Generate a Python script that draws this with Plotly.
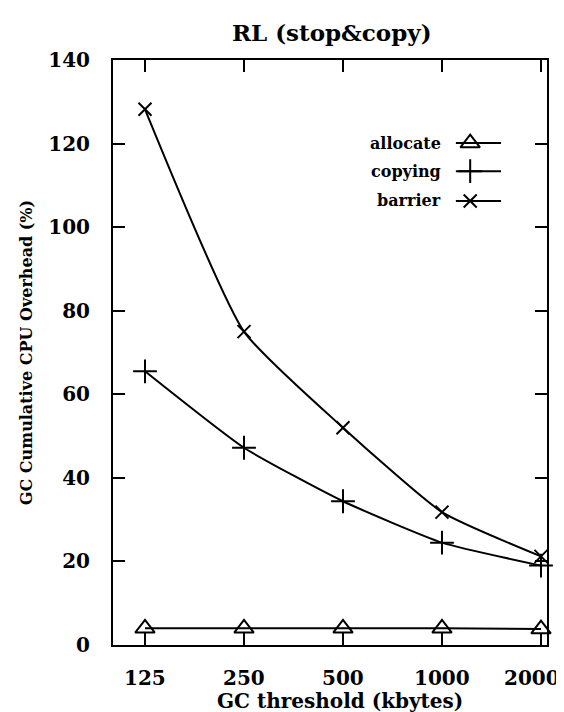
import math
import plotly.graph_objects as go

thresholds = [125, 250, 500, 1000, 2000]
tick_labels = ["125", "250", "500", "1000", "2000"]
allocate = [4.0, 4.0, 4.0, 4.0, 3.8]
copying = [65.5, 47.2, 34.4, 24.5, 19.0]
barrier = [128.2, 75.0, 52.0, 31.8, 21.2]
y_ticks = [0, 20, 40, 60, 80, 100, 120, 140]

FONT = "DejaVu Serif"
fig = go.Figure()

series = [
    ("allocate", allocate, "triangle-up-open", 17),
    ("copying", copying, "cross-thin-open", 17),
    ("barrier", barrier, "x-thin-open", 13),
]
for name, vals, sym, sz in series:
    fig.add_trace(go.Scatter(
        x=thresholds, y=vals, mode="lines+markers", name=name,
        line=dict(color="black", width=2, shape="spline", smoothing=0.5),
        marker=dict(symbol=sym, size=sz, color="black",
                    line=dict(color="black", width=2)),
        showlegend=False, cliponaxis=False,
    ))

# legend samples on a hidden overlay axis (0..1)
leg_y = [0.858, 0.810, 0.759]
for (name, vals, sym, sz), ly in zip(series, leg_y):
    fig.add_trace(go.Scatter(
        x=[0.79, 0.894], y=[ly, ly], mode="lines", xaxis="x2", yaxis="y2",
        line=dict(color="black", width=2), showlegend=False, hoverinfo="skip",
    ))
    fig.add_trace(go.Scatter(
        x=[0.823], y=[ly], mode="markers", xaxis="x2", yaxis="y2",
        marker=dict(symbol=sym, size=sz, color="black",
                    line=dict(color="black", width=2)),
        showlegend=False, hoverinfo="skip",
    ))
    fig.add_annotation(x=0.76, y=ly, xref="x2", yref="y2", text=name,
                       showarrow=False, xanchor="right", yanchor="middle",
                       font=dict(family=FONT, size=16, color="black", weight="bold"))

# x tick labels (last one nudged inward as in the original)
for t, lab in zip(thresholds, tick_labels):
    fig.add_annotation(x=math.log10(t), y=0, xref="x", yref="paper", text=lab,
                       showarrow=False, xanchor="center", yanchor="middle",
                       yshift=-33, xshift=-9 if t == thresholds[-1] else 0,
                       font=dict(family=FONT, size=20, color="black", weight="bold"))

# x axis title
fig.add_annotation(x=0.523, y=0, xref="paper", yref="paper",
                   text="GC threshold (kbytes)", showarrow=False,
                   xanchor="center", yanchor="middle", yshift=-56,
                   font=dict(family=FONT, size=20, color="black", weight="bold"))

axis_common = dict(
    showgrid=False, zeroline=False, showline=True, linecolor="black",
    linewidth=2, mirror="ticks", ticks="inside", ticklen=12, tickwidth=2,
    tickcolor="black",
    tickfont=dict(family=FONT, size=20, color="black", weight="bold"),
)

fig.update_layout(
    width=564, height=712,
    margin=dict(l=105, r=25, t=52, b=75),
    paper_bgcolor="white", plot_bgcolor="white",
    title=dict(text="RL (stop&copy)", x=0.574, xanchor="center",
               y=1 - 25 / 712, yanchor="middle", yref="container",
               font=dict(family=FONT, size=23, color="black", weight="bold")),
    xaxis=dict(type="log", range=[1.9996, 3.3193], tickvals=thresholds,
               showticklabels=False, **axis_common),
    yaxis=dict(range=[0, 140], tickvals=y_ticks, ticklabelstandoff=17,
               title=dict(text="GC Cumulative CPU Overhead (%)", standoff=12,
                          font=dict(family=FONT, size=16, color="black", weight="bold")),
               **axis_common),
    xaxis2=dict(overlaying="x", range=[0, 1], visible=False),
    yaxis2=dict(overlaying="y", range=[0, 1], visible=False),
)

fig.write_html("out.html")
